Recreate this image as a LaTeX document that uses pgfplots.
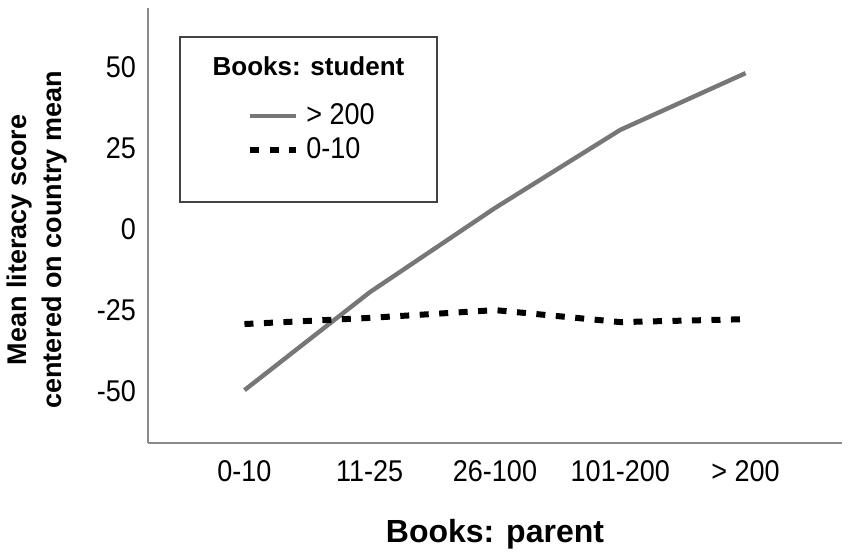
\documentclass[border=0pt]{standalone}
\usepackage{pgfplots}
\pgfplotsset{compat=1.18}
\usepackage{fontspec}
\setmainfont{Liberation Sans}
\newfontfamily\narrow[FakeStretch=0.9]{Liberation Sans}
\definecolor{axgray}{HTML}{8A8A8A}
\definecolor{linegray}{HTML}{777777}
\definecolor{boxgray}{HTML}{444444}

\begin{document}
\begin{tikzpicture}
\useasboundingbox (-74pt,-57pt) rectangle (351.5pt,221.5pt);
\begin{axis}[
  at={(0pt,0pt)}, anchor=south west,
  scale only axis, width=347pt, height=217.5pt,
  xmin=-0.77, xmax=4.77, ymin=-66, ymax=68.2,
  axis x line*=bottom, axis y line*=left,
  axis line style={draw=axgray, line width=1pt},
  xtick={0,1,2,3,4},
  xticklabels={0-10,11-25,26-100,101-200,> 200},
  ytick={-50,-25,0,25,50},
  yticklabels={-50,-25,0,25,50},
  major tick length=0pt,
  tick style={draw=none},
  ticklabel style={font=\narrow\fontsize{15}{17}\selectfont},
  xticklabel style={yshift=-5pt},
  yticklabel style={xshift=-2.5pt},
  xlabel={Books: parent},
  ylabel={Mean literacy score\\centered on country mean},
  every axis x label/.style={at={(rel axis cs:0.5,0)}, anchor=center, yshift=-45.5pt,
    font=\fontsize{16}{18}\selectfont\bfseries},
  every axis y label/.style={at={(rel axis cs:-0.16,0.467)}, anchor=center, rotate=90,
    align=center, font=\fontsize{13.5}{17.5}\selectfont\bfseries},
  legend image code/.code={\draw[#1] (0pt,0pt) -- (23pt,0pt);},
  legend style={draw=none, fill=none, at={(0.1427,0.7126)}, anchor=west,
    inner sep=0pt, row sep=4pt, column sep=3.5pt,
    font=\narrow\fontsize{15}{17}\selectfont,
    nodes={inner xsep=0pt, inner ysep=0pt, text height=10.5pt, text depth=2.5pt}},
  legend cell align=left,
]
\addplot[linegray, line width=2.2pt] coordinates {
  (0,-49.7) (1,-19.5) (2,6.5) (3,30.6) (4,48.1)};
\addlegendentry{> 200}
\addplot[black, line width=3pt, line cap=butt, dash pattern=on 4.5pt off 5.25pt] coordinates {
  (0,-29.3) (1,-27.4) (2,-25.0) (3,-28.7) (4,-27.8)};
\addlegendentry{0-10}
\end{axis}
\draw[boxgray, line width=1pt] (16pt,120.5pt) rectangle (144.5pt,203pt);
\node[font=\fontsize{13}{15}\selectfont\bfseries] at (80.25pt,188.5pt) {Books: student};
\end{tikzpicture}
\end{document}
